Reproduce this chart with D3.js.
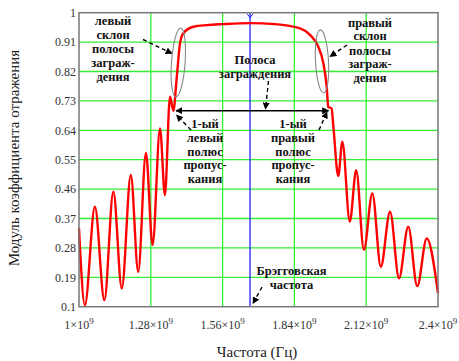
<!DOCTYPE html>
<meta charset="utf-8">
<html>
<head>
<style>
  body { margin: 0; background: #fff; }
</style>
</head>
<body>
<div id="chartContainer"></div>
<script src="https://d3js.org/d3.v7.min.js"></script>
<script type="text/javascript">
  // frequency (GHz) and reflection magnitude
  var freqGHz = [1.000, 1.023, 1.062, 1.099, 1.134, 1.167, 1.202, 1.231, 1.261, 1.287,
                 1.316, 1.335, 1.355, 1.368, 1.381, 1.394, 1.407, 1.446, 1.498, 1.562,
                 1.667, 1.764, 1.862, 1.901, 1.933, 1.953, 1.966, 1.972, 1.985, 1.992,
                 2.011, 2.027, 2.056, 2.081, 2.111, 2.144, 2.177, 2.213, 2.248, 2.284,
                 2.319, 2.356, 2.400];
  var reflection = [0.34, 0.105, 0.406, 0.12, 0.452, 0.156, 0.503, 0.207, 0.571, 0.289,
                    0.646, 0.442, 0.743, 0.700, 0.80, 0.907, 0.937, 0.957, 0.962, 0.965,
                    0.968, 0.965, 0.952, 0.932, 0.896, 0.845, 0.773, 0.712, 0.707, 0.651,
                    0.50, 0.605, 0.36, 0.518, 0.274, 0.447, 0.222, 0.391, 0.187, 0.345,
                    0.163, 0.309, 0.142];
  var braggFreq = 1.667e9;
  var xTicks = [1, 1.28, 1.56, 1.84, 2.12, 2.4];
  var yTicks = [0.1, 0.19, 0.28, 0.37, 0.46, 0.55, 0.64, 0.73, 0.82, 0.91, 1];

  var W = 459, H = 361;
  // plot box (note: "top" is taken by window.top, so use pTop etc.)
  var pLeft = 79, pRight = 438, pTop = 12.7, pBottom = 306.7;
  var serif = "'Liberation Serif', 'DejaVu Serif', serif";

  var svg = d3.select("#chartContainer").append("svg")
    .attr("width", W).attr("height", H)
    .attr("font-family", serif);

  var x = d3.scaleLinear().domain([1e9, 2.4e9]).range([pLeft, pRight]);
  var y = d3.scaleLinear().domain([0.1, 1]).range([pBottom, pTop]);

  var defs = svg.append("defs");
  defs.append("marker").attr("id", "ah")
    .attr("viewBox", "0 0 10 10").attr("refX", 9).attr("refY", 5)
    .attr("markerWidth", 7).attr("markerHeight", 7)
    .attr("markerUnits", "userSpaceOnUse")
    .attr("orient", "auto-start-reverse")
    .append("path").attr("d", "M0,0 L10,5 L0,10 Z").attr("fill", "#000");

  // grid
  var g = svg.append("g");
  g.selectAll("line.gx").data(xTicks.slice(1, -1)).enter().append("line")
    .attr("x1", d => x(d * 1e9)).attr("x2", d => x(d * 1e9))
    .attr("y1", pTop).attr("y2", pBottom)
    .attr("stroke", "#33ee33").attr("stroke-width", 1.3);
  g.selectAll("line.gy").data(yTicks.slice(1, -1)).enter().append("line")
    .attr("x1", pLeft).attr("x2", pRight)
    .attr("y1", d => y(d)).attr("y2", d => y(d))
    .attr("stroke", "#33ee33").attr("stroke-width", 1.3);

  // bragg frequency line
  var bx = x(braggFreq);
  g.append("line")
    .attr("x1", bx).attr("x2", bx)
    .attr("y1", pTop).attr("y2", pBottom)
    .attr("stroke", "#2222ff").attr("stroke-width", 1.3);
  g.append("path")
    .attr("d", "M" + (bx - 3) + "," + (pTop + 1) + " L" + bx + "," + (pTop + 5) +
      " L" + (bx + 3) + "," + (pTop + 1))
    .attr("fill", "none").attr("stroke", "#2222ff").attr("stroke-width", 1);

  // curve
  var pts = freqGHz.map((f, i) => [f * 1e9, reflection[i]]);
  svg.append("path").datum(pts)
    .attr("d", d3.line().x(d => x(d[0])).y(d => y(d[1])).curve(d3.curveMonotoneX))
    .attr("fill", "none").attr("stroke", "#ff0000").attr("stroke-width", 2.4);

  // frame
  svg.append("rect")
    .attr("x", pLeft).attr("y", pTop).attr("width", pRight - pLeft).attr("height", pBottom - pTop)
    .attr("fill", "none").attr("stroke", "#777").attr("stroke-width", 1.5);

  // tick labels
  svg.selectAll("text.yt").data(yTicks).enter().append("text")
    .attr("x", pLeft - 3).attr("y", d => y(d))
    .attr("dy", "0.35em").attr("text-anchor", "end")
    .attr("font-size", "12px").attr("fill", "#333")
    .text(d => d3.format("")(d));

  var xt = svg.selectAll("text.xt").data(xTicks).enter().append("text")
    .attr("x", d => x(d * 1e9)).attr("y", 329)
    .attr("text-anchor", "middle")
    .attr("font-size", "12px").attr("fill", "#333");
  xt.append("tspan").text(d => d + "×10");
  xt.append("tspan").attr("dy", -5).attr("font-size", "9px").text("9");

  // axis titles
  svg.append("text").attr("x", 257).attr("y", 357)
    .attr("text-anchor", "middle").attr("font-size", "15px").attr("fill", "#222")
    .text("Частота (Гц)");
  svg.append("text")
    .attr("transform", "translate(19,158) rotate(-90)")
    .attr("text-anchor", "middle").attr("font-size", "15px").attr("fill", "#222")
    .text("Модуль коэффициента отражения");

  // annotations
  function block(lines, cx, ys) {
    lines.forEach(function (t, i) {
      svg.append("text").attr("x", cx).attr("y", ys[i])
        .attr("dy", "0.35em").attr("text-anchor", "middle")
        .attr("font-size", "12.5px").attr("font-weight", "bold").attr("fill", "#111")
        .text(t);
    });
  }
  block(["левый", "склон", "полосы", "заграж-", "дения"], 113, [21, 35, 49, 63, 76.5]);
  block(["правый", "склон", "полосы", "заграж-", "дения"], 370, [22.5, 36, 50.5, 64, 77.5]);
  block(["Полоса", "заграждения"], 255, [60, 73.5]);
  block(["1-ый", "левый", "полюс", "пропус-", "кания"], 205, [124, 138, 151.5, 165, 178.5]);
  block(["1-ый", "правый", "полюс", "пропус-", "кания"], 293, [124, 138, 151.5, 165, 178.5]);
  block(["Брэгговская", "частота"], 291.5, [271, 285]);

  function dashArrow(x1, y1, x2, y2) {
    svg.append("line").attr("x1", x1).attr("y1", y1).attr("x2", x2).attr("y2", y2)
      .attr("stroke", "#000").attr("stroke-width", 1.4)
      .attr("stroke-dasharray", "4,3").attr("marker-end", "url(#ah)");
  }
  dashArrow(143, 39.5, 172, 53.5);
  dashArrow(347, 45, 330, 56.5);
  dashArrow(268.5, 81, 265.5, 109);
  dashArrow(191, 130, 176.5, 115);
  dashArrow(319, 130, 327, 112);
  dashArrow(262, 287, 253, 303.5);

  // double arrow across the stop band
  svg.append("line").attr("x1", 176).attr("y1", 110.7).attr("x2", 328.5).attr("y2", 110.7)
    .attr("stroke", "#000").attr("stroke-width", 1.6)
    .attr("marker-start", "url(#ah)").attr("marker-end", "url(#ah)");

  // slope ellipses
  svg.append("ellipse").attr("cx", 178.3).attr("cy", 62.5).attr("rx", 6.8).attr("ry", 34.5)
    .attr("transform", "rotate(4,178.3,62.5)")
    .attr("fill", "none").attr("stroke", "#888").attr("stroke-width", 1.1);
  svg.append("ellipse").attr("cx", 322).attr("cy", 61.3).attr("rx", 6.5).attr("ry", 31.5)
    .attr("transform", "rotate(-3,322,61.3)")
    .attr("fill", "none").attr("stroke", "#888").attr("stroke-width", 1.1);
</script>
</body>
</html>
